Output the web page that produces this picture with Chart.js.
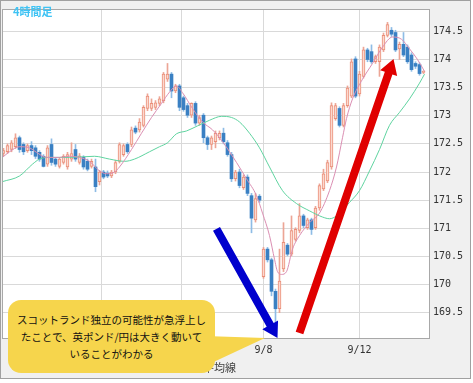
<!DOCTYPE html>
<html lang="ja">
<head>
<meta charset="utf-8">
<title>英ポンド/円 4時間足</title>
<script src="https://cdn.jsdelivr.net/npm/chart.js@4.4.1/dist/chart.umd.min.js"></script>
<style>
  html, body { margin: 0; padding: 0; background: #fff; }
  #wrap { position: relative; width: 473px; height: 383px; overflow: hidden; }
  #frame { position: absolute; left: 0; top: 0; width: 469px; height: 377px; border: 1px solid #a0a0a0; background: #f0f0f0; }
  #chart { position: absolute; left: 0; top: 0; }
  #title { position: absolute; left: 13px; top: 6px; font: bold 11px/11px "Noto Sans CJK JP", sans-serif; color: #3ec3f4; }
  #legend { position: absolute; left: 120px; width: 116px; top: 362px; text-align: right; font: 11px/11px "Noto Sans CJK JP", sans-serif; color: #444; }
  #tail { position: absolute; left: 0; top: 0; }
  #note { position: absolute; left: 8px; top: 300px; width: 207px; height: 73px; border-radius: 13px; background: #f6d54c;
          display: flex; align-items: center; justify-content: center; text-align: center;
          font: 10.5px/17px "Noto Sans CJK JP", sans-serif; color: #111; }
</style>
</head>
<body>
<div id="wrap">
  <div id="frame"></div>
  <canvas id="chart" width="473" height="383"></canvas>
  <div id="title">4時間足</div>
  <div id="legend">平均線</div>
  <svg id="tail" width="473" height="383"><polygon points="205,336 265,338 205,366" fill="#f6d54c"/></svg>
  <div id="note">スコットランド独立の可能性が急浮上し<br>たことで、英ポンド/円は大きく動いて<br>いることがわかる</div>
</div>
<script>
// Velas de 4 horas (GBP/JPY)
const opens = [
  172.33, 172.36, 172.40, 172.45, 172.61, 172.49, 172.38, 172.47, 172.43, 172.35,
  172.28, 172.14, 172.49, 172.23, 172.10, 172.17, 172.09, 172.23, 172.40, 172.17,
  172.26, 172.19, 172.10, 172.09, 171.83, 172.00, 171.98, 171.93, 172.00, 172.19,
  172.31, 172.49, 172.49, 172.78, 172.75, 172.83, 173.13, 173.13, 173.15, 173.22,
  173.27, 173.65, 173.74, 173.44, 173.53, 173.32, 173.18, 173.01, 173.22, 172.87,
  173.01, 172.61, 172.49, 172.54, 172.61, 172.69, 172.52, 172.31, 171.88, 172.00,
  171.72, 171.91, 171.58, 171.15, 171.57, 170.14, 170.63, 170.44, 169.88, 169.57,
  170.28, 170.70, 170.54, 170.80, 170.96, 171.22, 171.01, 171.15, 171.01, 171.36,
  171.70, 171.84, 172.09, 172.95, 173.13, 172.83, 173.18, 173.35, 174.01, 173.39,
  173.70, 174.17, 174.14, 173.96, 173.96, 174.17, 174.43, 174.52, 174.48, 174.19,
  174.27, 174.22, 174.08, 173.93, 173.91, 173.77
];
const highs = [
  172.42, 172.50, 172.56, 172.68, 172.64, 172.52, 172.50, 172.54, 172.47, 172.38,
  172.31, 172.47, 172.59, 172.26, 172.26, 172.31, 172.35, 172.52, 172.49, 172.33,
  172.29, 172.23, 172.23, 172.23, 172.03, 172.03, 172.02, 172.03, 172.21, 172.52,
  172.50, 172.52, 172.80, 172.82, 172.95, 173.18, 173.39, 173.30, 173.27, 173.34,
  173.77, 173.93, 173.77, 173.56, 173.56, 173.35, 173.22, 173.23, 173.25, 173.01,
  173.04, 172.64, 172.64, 172.73, 172.73, 172.78, 172.56, 172.35, 172.03, 172.05,
  171.95, 171.95, 171.62, 171.62, 171.60, 170.66, 170.66, 170.47, 169.92, 170.63,
  171.10, 170.73, 171.22, 171.01, 171.44, 171.25, 171.18, 171.18, 171.39, 171.79,
  172.05, 172.21, 173.23, 173.22, 173.16, 173.22, 173.53, 174.01, 174.05, 173.79,
  174.22, 174.20, 174.26, 174.08, 174.26, 174.47, 174.66, 174.57, 174.52, 174.31,
  174.48, 174.26, 174.12, 173.96, 173.94, 173.80
];
const lows = [
  172.29, 172.33, 172.36, 172.42, 172.35, 172.31, 172.35, 172.31, 172.24, 172.19,
  172.09, 172.10, 172.12, 172.10, 172.07, 172.14, 172.05, 172.19, 172.19, 172.14,
  172.05, 172.02, 172.07, 171.65, 171.77, 171.88, 171.90, 171.90, 171.97, 172.16,
  172.28, 172.33, 172.45, 172.68, 172.71, 172.80, 173.09, 173.09, 173.11, 173.18,
  173.23, 173.61, 173.32, 173.41, 173.09, 173.08, 172.97, 172.97, 172.83, 172.83,
  172.52, 172.40, 172.40, 172.43, 172.57, 172.50, 172.28, 171.83, 171.84, 171.72,
  171.69, 171.58, 170.92, 171.11, 171.46, 170.11, 170.40, 169.80, 169.33, 169.50,
  170.23, 170.51, 170.51, 170.77, 170.92, 171.01, 170.98, 170.89, 170.98, 171.32,
  171.67, 171.81, 172.05, 172.92, 172.80, 172.80, 173.15, 173.32, 173.32, 173.35,
  173.67, 173.96, 173.93, 173.93, 173.70, 174.14, 174.40, 174.41, 174.14, 174.00,
  174.05, 173.93, 173.79, 173.84, 173.72, 173.75
];
const closes = [
  172.38, 172.47, 172.52, 172.61, 172.40, 172.36, 172.47, 172.38, 172.28, 172.23,
  172.10, 172.43, 172.17, 172.14, 172.23, 172.28, 172.31, 172.33, 172.23, 172.29,
  172.09, 172.05, 172.19, 171.74, 172.00, 171.91, 171.93, 172.00, 172.17, 172.49,
  172.47, 172.36, 172.75, 172.71, 172.89, 173.15, 173.35, 173.22, 173.23, 173.30,
  173.74, 173.74, 173.44, 173.53, 173.15, 173.11, 173.01, 173.22, 172.87, 172.97,
  172.61, 172.49, 172.61, 172.69, 172.69, 172.54, 172.31, 171.88, 172.00, 171.76,
  171.91, 171.62, 171.18, 171.53, 171.50, 170.63, 170.44, 169.88, 169.57, 170.06,
  170.75, 170.54, 170.96, 170.98, 171.22, 171.05, 171.15, 170.98, 171.36, 171.76,
  171.97, 172.17, 173.18, 173.18, 172.83, 173.18, 173.49, 173.96, 173.35, 173.74,
  174.17, 174.00, 173.96, 174.05, 174.22, 174.43, 174.62, 174.45, 174.17, 174.27,
  174.08, 173.96, 173.82, 173.88, 173.75, 173.79
];

// Medias móviles (posición de vela, precio)
const maShortIdx = [-0.25, 1.5, 4, 6.5, 8.25, 10.75, 14, 16.5, 19, 21.5, 24, 25.75, 27.75, 29, 32, 34.5, 37, 39.5, 41.5, 43.25,
  44.75, 47.25, 49.75, 52.25, 54.75, 58.25, 60.75, 63.25, 64.75, 66.5, 67.75, 68.5, 69.5, 70.75, 72.25, 74, 76.5, 79, 81.5, 83.25,
  84.75, 85.75, 87.25, 89.75, 92.25, 94.75, 97.25, 99.5, 101.5, 103.5, 105.25];
const maShortVal = [172.26, 172.36, 172.45, 172.43, 172.35, 172.26, 172.26, 172.28, 172.26, 172.19, 172.02, 171.97, 172.00, 172.09, 172.40, 172.69, 172.97, 173.22, 173.42, 173.53,
  173.41, 173.13, 172.89, 172.75, 172.54, 172.17, 171.88, 171.58, 171.27, 170.87, 170.45, 170.23, 170.18, 170.23, 170.63, 170.87, 171.10, 171.27, 171.67, 172.09,
  172.61, 172.95, 173.30, 173.65, 173.93, 174.22, 174.40, 174.36, 174.19, 174.00, 173.79];
const maLongIdx = [-0.25, 4, 7.25, 9, 11.5, 16.5, 22.75, 26.5, 30.25, 32.75, 36.5, 39, 41, 43.25, 45.75, 48.5, 51.5, 54.5, 57, 59,
  61.5, 64, 66.5, 69.75, 73.25, 76.5, 79.75, 81.5, 83.25, 86.5, 89, 91.5, 94, 96.5, 99, 101.5, 104, 105.25];
const maLongVal = [171.83, 171.93, 172.14, 172.23, 172.26, 172.26, 172.28, 172.23, 172.19, 172.23, 172.36, 172.45, 172.52, 172.68, 172.73, 172.82, 172.92, 172.99, 172.97, 172.89,
  172.69, 172.43, 172.09, 171.67, 171.44, 171.31, 171.20, 171.17, 171.22, 171.46, 171.67, 172.02, 172.40, 172.83, 173.06, 173.30, 173.58, 173.74];

// Ejes
const tickPos = [24.5, 44.5, 65, 89];
const tickLabels = ["8/29", "9/3", "9/8", "9/12"];
const yTicks = [169.5, 170, 170.5, 171, 171.5, 172, 172.5, 173, 173.5, 174, 174.5];

// Flechas (vela, precio)
const arrows = [
  { from: [53.25, 170.99], to: [68.5, 169.05], color: "#0000cd" },
  { from: [74, 169.14], to: [97.5, 174.01], color: "#e00000" },
];

const isUp = closes.map((c, i) => c >= opens[i]);

function drawArrow(ctx, x1, y1, x2, y2, color) {
  const len = Math.hypot(x2 - x1, y2 - y1);
  const ux = (x2 - x1) / len, uy = (y2 - y1) / len;
  const nx = -uy, ny = ux;
  const head = 15, half = 9, shaft = 4;
  const bx = x2 - ux * head, by = y2 - uy * head;
  ctx.fillStyle = color;
  ctx.beginPath();
  ctx.moveTo(x1 + nx * shaft, y1 + ny * shaft);
  ctx.lineTo(bx + nx * shaft, by + ny * shaft);
  ctx.lineTo(bx + nx * half, by + ny * half);
  ctx.lineTo(x2, y2);
  ctx.lineTo(bx - nx * half, by - ny * half);
  ctx.lineTo(bx - nx * shaft, by - ny * shaft);
  ctx.lineTo(x1 - nx * shaft, y1 - ny * shaft);
  ctx.closePath();
  ctx.fill();
}

const plotArea = {
  id: "plotArea",
  beforeDraw(chart) {
    const { ctx, chartArea: a } = chart;
    ctx.save();
    ctx.fillStyle = "#fff";
    ctx.fillRect(a.left, a.top, a.width, a.height);
    ctx.restore();
  },
  afterDatasetsDraw(chart) {
    const { ctx, chartArea: a, scales: { x, y } } = chart;
    ctx.save();
    ctx.strokeStyle = "#a8a8a8";
    ctx.lineWidth = 1;
    ctx.strokeRect(a.left - 0.5, a.top - 0.5, a.width + 1, a.height + 1);
    arrows.forEach((ar) => {
      drawArrow(ctx, x.getPixelForValue(ar.from[0]), y.getPixelForValue(ar.from[1]),
        x.getPixelForValue(ar.to[0]), y.getPixelForValue(ar.to[1]), ar.color);
    });
    ctx.restore();
  },
};

const axisFont = { family: "DejaVu Sans Mono", size: 10 };

new Chart(document.getElementById("chart"), {
  type: "bar",
  data: {
    datasets: [
      {
        type: "line",
        data: maShortIdx.map((x, i) => ({ x, y: maShortVal[i] })),
        borderColor: "#db8fb3",
        borderWidth: 1,
        pointRadius: 0,
        cubicInterpolationMode: "monotone",
        order: 0,
      },
      {
        type: "line",
        data: maLongIdx.map((x, i) => ({ x, y: maLongVal[i] })),
        borderColor: "#5fd4a0",
        borderWidth: 1,
        pointRadius: 0,
        cubicInterpolationMode: "monotone",
        order: 0,
      },
      {
        data: opens.map((o, i) => ({ x: i, y: [o, closes[i]] })),
        backgroundColor: isUp.map((u) => (u ? "#fbd9cf" : "#3a80c3")),
        borderColor: isUp.map((u) => (u ? "#ea8e78" : "#3a80c3")),
        borderWidth: isUp.map((u) => (u ? 1 : 0)),
        borderSkipped: false,
        barThickness: 3,
        minBarLength: 1,
        grouped: false,
        order: 1,
      },
      {
        data: lows.map((l, i) => ({ x: i, y: [l, highs[i]] })),
        backgroundColor: isUp.map((u) => (u ? "#eca595" : "#8ebce5")),
        barThickness: 1,
        grouped: false,
        order: 2,
      },
    ],
  },
  options: {
    responsive: false,
    animation: false,
    devicePixelRatio: 1,
    layout: { padding: { left: 3, top: 2, right: 3, bottom: 5 } },
    plugins: { legend: { display: false }, tooltip: { enabled: false } },
    scales: {
      x: {
        type: "linear",
        offset: false,
        min: -0.125,
        max: 106.375,
        afterFit: (s) => { s.height = 40; },
        afterBuildTicks: (s) => { s.ticks = tickPos.map((v) => ({ value: v })); },
        grid: { color: "#d9d9d9", drawTicks: false, offset: false },
        border: { display: false },
        ticks: {
          padding: 6,
          font: axisFont,
          color: "#333",
          maxRotation: 0,
          autoSkip: false,
          callback: (v) => tickLabels[tickPos.indexOf(v)],
        },
      },
      y: {
        position: "right",
        min: 169.05,
        max: 174.88,
        afterFit: (s) => { s.width = 41; },
        afterBuildTicks: (s) => { s.ticks = yTicks.map((v) => ({ value: v })); },
        grid: { color: "#d9d9d9", drawTicks: false },
        border: { display: false },
        ticks: { padding: 4, font: axisFont, color: "#333", callback: (v) => String(v) },
      },
    },
  },
  plugins: [plotArea],
});
</script>
</body>
</html>
